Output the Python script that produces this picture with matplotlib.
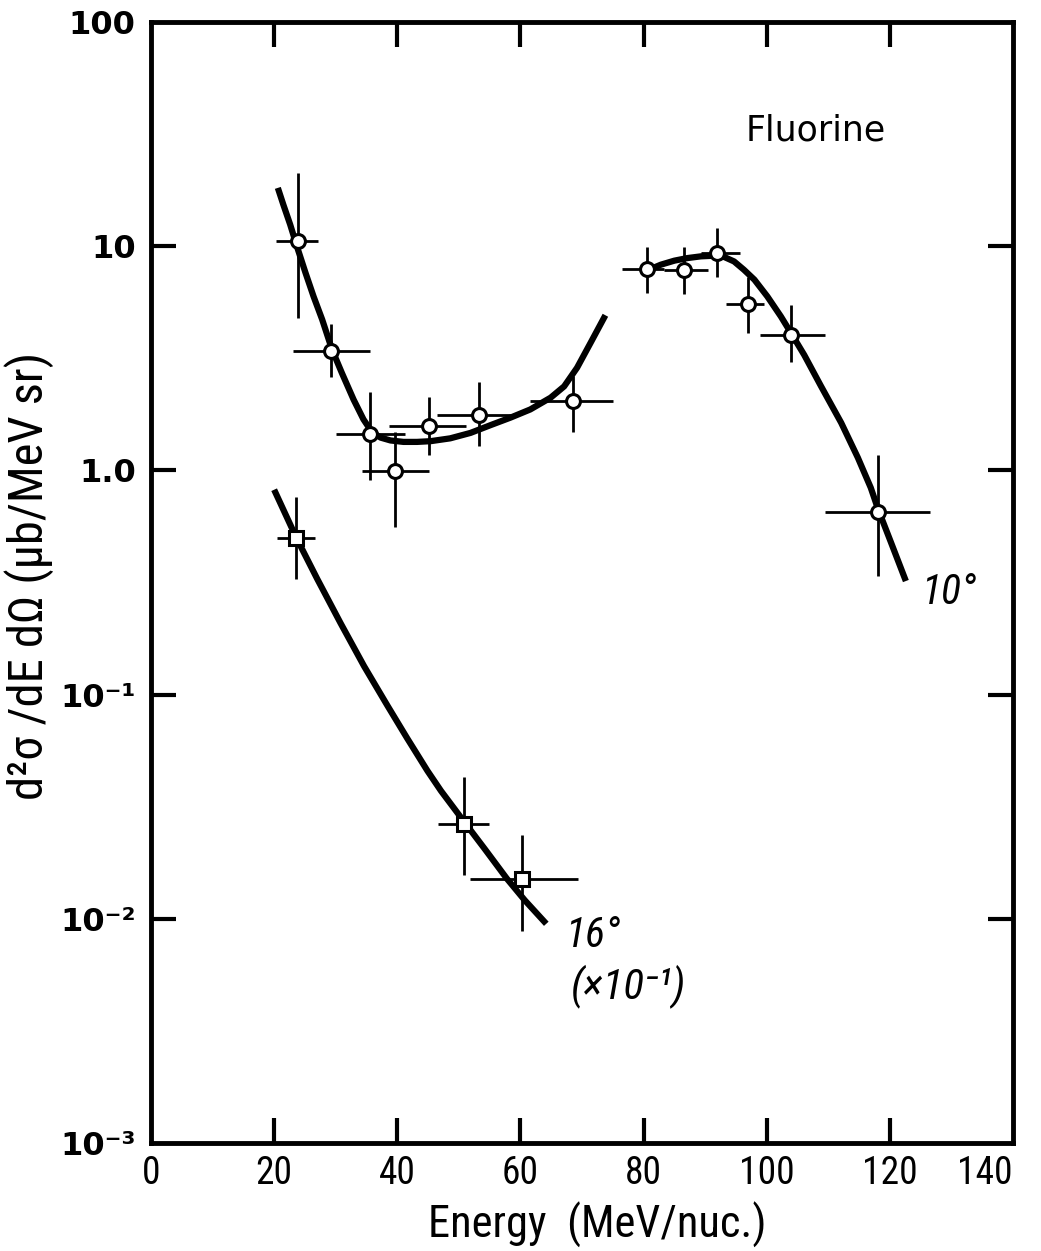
import matplotlib
matplotlib.use("Agg")
import matplotlib.pyplot as plt

# fluorine fragment cross sections, 10 deg (circles) and 16 deg x 0.1 (squares)
E10 = [23.8, 29.3, 35.5, 39.7, 45.2, 53.2, 68.5, 80.5, 86.5, 92.0, 96.9, 103.9, 118.1]
Y10 = [10.5, 3.4, 1.45, 0.99, 1.57, 1.76, 2.05, 7.9, 7.8, 9.3, 5.5, 4.0, 0.65]
E10_lo = [20.3, 23.1, 30.0, 34.3, 38.7, 46.5, 61.6, 76.5, 83.3, 89.3, 93.4, 98.9, 109.5]
E10_hi = [27.2, 35.6, 41.3, 45.1, 51.2, 58.9, 75.1, 83.3, 90.4, 95.6, 99.5, 109.5, 126.5]
Y10_lo = [4.8, 2.6, 0.91, 0.56, 1.17, 1.29, 1.49, 6.2, 6.1, 7.3, 4.1, 3.06, 0.337]
Y10_hi = [21.2, 4.5, 2.24, 1.49, 2.13, 2.47, 2.63, 9.95, 9.95, 12.0, 7.3, 5.49, 1.17]

E16 = [23.6, 50.9, 60.2]
Y16 = [0.50, 0.0265, 0.0150]
E16_lo = [20.4, 46.6, 51.8]
E16_hi = [26.7, 54.9, 69.4]
Y16_lo = [0.328, 0.0157, 0.00878]
Y16_hi = [0.764, 0.0428, 0.0237]

# hand drawn curves
fit10a_E = [20.6, 21.5, 22.6, 23.7, 25.1, 26.4, 27.8, 29.4, 31.0, 32.9, 34.5,
            35.9, 37.3, 38.9, 41.0, 43.2, 45.4, 48.6, 51.9, 55.1, 58.4, 61.6,
            64.9, 67.1, 69.2, 71.4, 73.8]
fit10a_Y = [18.2, 15.3, 12.5, 9.98, 7.60, 5.97, 4.71, 3.46, 2.72, 2.07, 1.69,
            1.48, 1.40, 1.36, 1.34, 1.34, 1.35, 1.39, 1.47, 1.59, 1.72, 1.87,
            2.11, 2.37, 2.87, 3.71, 4.92]
fit10b_E = [80.6, 82.8, 85.0, 87.1, 89.3, 91.5, 93.1, 94.7, 96.3, 98.0, 100.1,
            102.3, 103.9, 106.1, 108.8, 112.1, 114.8, 116.9, 118.1, 120.2, 122.6]
fit10b_Y = [7.80, 8.27, 8.62, 8.85, 9.01, 9.07, 8.95, 8.55, 7.85, 7.09, 5.97,
            4.86, 4.12, 3.27, 2.38, 1.63, 1.14, 0.837, 0.67, 0.476, 0.321]
fit16_E = [20.0, 23.6, 27.0, 30.8, 34.6, 38.4, 41.6, 44.9, 47.1, 50.9, 54.2,
           57.8, 60.7, 64.2]
fit16_Y = [0.820, 0.501, 0.328, 0.208, 0.134, 0.0893, 0.0639, 0.0457, 0.0372,
           0.0270, 0.0205, 0.0151, 0.0121, 0.0095]

xticks = [0, 20, 40, 60, 80, 100, 120, 140]
yticks = [1e-3, 1e-2, 1e-1, 1, 10, 100]
ytick_labels = ['10⁻³', '10⁻²', '10⁻¹', '1.0', '10', '100']

# narrow lettering like the original
cond = dict(family=['Roboto Condensed', 'Liberation Sans Narrow', 'DejaVu Sans'],
            fontstretch='condensed')

fig = plt.figure(figsize=(10.41, 12.51), dpi=100)
ax = fig.add_axes([151 / 1041, 108 / 1251, 862 / 1041, 1121 / 1251])
ax.set_yscale('log')
ax.set_xlim(0, 140)
ax.set_ylim(1e-3, 100)

# curves
for fx, fy in [(fit10a_E, fit10a_Y), (fit10b_E, fit10b_Y), (fit16_E, fit16_Y)]:
    ax.plot(fx, fy, color='black', lw=4.5, solid_capstyle='butt',
            solid_joinstyle='round', zorder=2)

# error bars
xerr10 = [[e - lo for e, lo in zip(E10, E10_lo)], [hi - e for e, hi in zip(E10, E10_hi)]]
yerr10 = [[y - lo for y, lo in zip(Y10, Y10_lo)], [hi - y for y, hi in zip(Y10, Y10_hi)]]
ax.errorbar(E10, Y10, xerr=xerr10, yerr=yerr10, fmt='none', ecolor='black',
            elinewidth=2, capsize=0, zorder=3)
xerr16 = [[e - lo for e, lo in zip(E16, E16_lo)], [hi - e for e, hi in zip(E16, E16_hi)]]
yerr16 = [[y - lo for y, lo in zip(Y16, Y16_lo)], [hi - y for y, hi in zip(Y16, Y16_hi)]]
ax.errorbar(E16, Y16, xerr=xerr16, yerr=yerr16, fmt='none', ecolor='black',
            elinewidth=2, capsize=0, zorder=3)

# markers
ax.plot(E10, Y10, 'o', ms=10, mfc='white', mec='black', mew=2.2, zorder=4)
ax.plot(E16, Y16, 's', ms=10, mfc='white', mec='black', mew=2.2, zorder=4)

# annotations
ax.text(108, 32.7, 'Fluorine', fontsize=25, family='DejaVu Sans',
        ha='center', va='center')
ax.text(129.6, 0.286, '10°', fontsize=30, style='italic', **cond,
        ha='center', va='center')
ax.text(71.8, 0.0084, '16°', fontsize=30, style='italic', **cond,
        ha='center', va='center')
ax.text(77.6, 0.00503, '(×10⁻¹)', fontsize=31, style='italic', **cond,
        ha='center', va='center')

# axes styling
for sp in ax.spines.values():
    sp.set_linewidth(3.5)
ax.minorticks_off()
ax.set_xticks(xticks)
ax.set_xticklabels([str(t) for t in xticks], fontsize=27, **cond)
ax.get_xticklabels()[-1].set_horizontalalignment('right')
ax.set_yticks(yticks)
ax.set_yticklabels(ytick_labels, fontsize=23, fontweight='bold', family='DejaVu Sans')
ax.tick_params(axis='both', which='major', direction='in', length=18, width=3,
               top=True, right=True)
ax.tick_params(axis='x', pad=9)
ax.tick_params(axis='y', pad=11)

# no tick marks on the corners
for t in ax.xaxis.get_major_ticks():
    if t.get_loc() in (0, 140):
        t.tick1line.set_visible(False)
        t.tick2line.set_visible(False)
for t in ax.yaxis.get_major_ticks():
    if t.get_loc() in (1e-3, 100):
        t.tick1line.set_visible(False)
        t.tick2line.set_visible(False)

fig.text(29 / 1041, 1 - 576 / 1251, 'd²σ /dE dΩ (μb/MeV sr)', rotation=90,
         fontsize=35, **cond, ha='center', va='center')
fig.text(597 / 1041, 1 - 1225 / 1251, 'Energy  (MeV/nuc.)', fontsize=32,
         **cond, ha='center', va='center')

fig.savefig('out.png', dpi=100)
